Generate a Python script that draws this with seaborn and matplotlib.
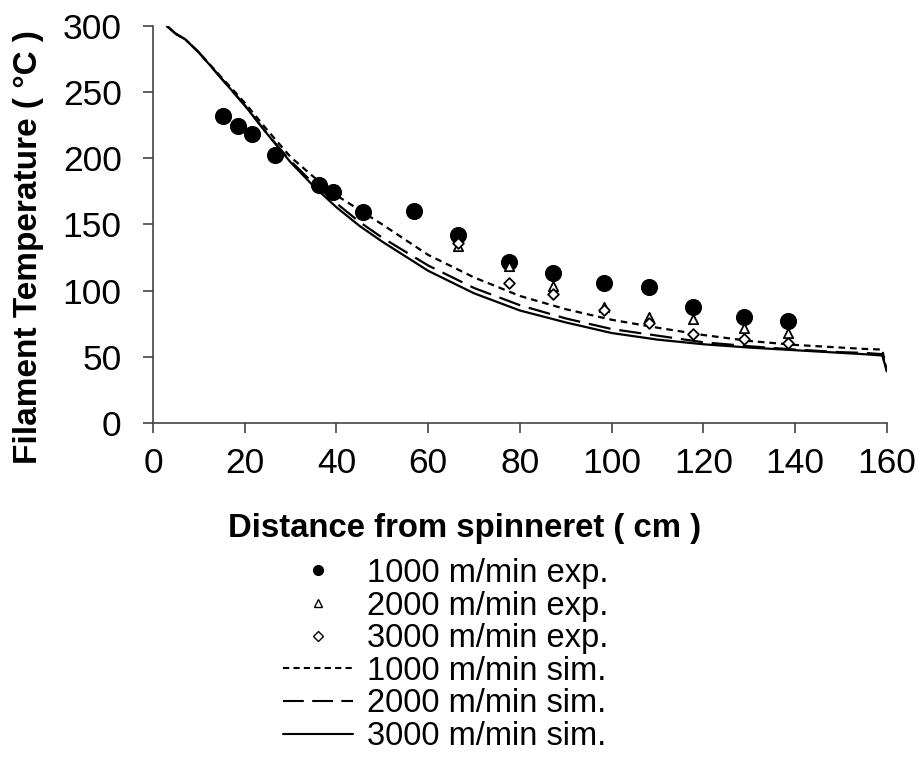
import matplotlib
matplotlib.use("Agg")
import matplotlib.pyplot as plt
import seaborn as sns
from matplotlib.lines import Line2D

# ---- data ----
exp_x = [15.3, 18.5, 21.6, 26.5, 36.2, 39.2, 45.7, 56.9, 66.6, 77.7, 87.3, 98.4, 108.1, 117.8, 128.8, 138.5]
exp1000_y = [232, 224.5, 218.4, 202.6, 179.7, 174.8, 159.5, 160.5, 142, 122, 113, 106, 102.6, 87.4, 80.1, 77.3]

exp2_x = [66.6, 77.7, 87.3, 98.4, 108.1, 117.8, 128.8, 138.5]
exp2000_y = [134, 118.5, 103.8, 87.4, 80.3, 78.4, 71.6, 68.3]
exp3_x = [66.6, 77.7, 87.3, 98.4, 108.1, 117.8, 128.8, 138.5]
exp3000_y = [136, 105.6, 97.5, 85.4, 75.4, 67, 63.5, 60.7]

sim_x = [3, 5, 7, 10, 15, 20, 25, 30, 35, 40, 45, 50, 60, 70, 80, 90, 100, 110, 120, 130, 140, 150, 155, 159, 159.5, 160]
sim1000_y = [300, 294, 290, 280, 261, 242, 221, 201, 186, 172, 161, 150, 127, 110, 96, 86, 78, 72, 66.5, 62, 59, 57, 56, 55.5, 47, 39]
sim2000_y = [300, 294, 290, 280, 260, 240, 218, 198, 181, 166, 152, 140, 119, 102, 89, 79, 71, 66, 61, 58, 55.5, 53.5, 53, 52, 46, 39]
sim3000_y = [300, 294, 290, 280, 260, 240, 218, 197, 179, 163, 149, 137, 115, 98, 85, 76, 68, 63, 59.5, 57, 55, 53, 52, 51, 45, 39]

labels = ["1000 m/min exp.", "2000 m/min exp.", "3000 m/min exp.",
          "1000 m/min sim.", "2000 m/min sim.", "3000 m/min sim."]
x_ticks = [0, 20, 40, 60, 80, 100, 120, 140, 160]
y_ticks = [0, 50, 100, 150, 200, 250, 300]

sns.set_style("ticks")
plt.rcParams['font.family'] = ['Liberation Sans', 'DejaVu Sans']
plt.rcParams['text.color'] = 'black'
plt.rcParams['axes.labelcolor'] = 'black'

fig = plt.figure(figsize=(9.2, 7.57), dpi=100)
ax = fig.add_axes([0.1663, 0.4412, 0.7977, 0.5245])

lw = 1.6
sns.lineplot(x=sim_x, y=sim1000_y, ax=ax, color="black", lw=lw, linestyle=(0, (3, 2.2)), sort=False)
sns.lineplot(x=sim_x, y=sim2000_y, ax=ax, color="black", lw=lw, linestyle=(0, (10, 4)), sort=False)
sns.lineplot(x=sim_x, y=sim3000_y, ax=ax, color="black", lw=lw, linestyle="-", sort=False)

sns.scatterplot(x=exp_x, y=exp1000_y, ax=ax, marker="o", s=130, color="black", edgecolor="black", zorder=5)
sns.scatterplot(x=exp2_x, y=exp2000_y, ax=ax, marker="^", s=45, facecolor="white", edgecolor="black", linewidth=1.3, zorder=6)
sns.scatterplot(x=exp3_x, y=exp3000_y, ax=ax, marker="D", s=30, facecolor="white", edgecolor="black", linewidth=1.3, zorder=7)

ax.set_xlim(0, 160)
ax.set_ylim(0, 300)
ax.set_xticks(x_ticks)
ax.set_yticks(y_ticks)
for s in ["top", "right"]:
    ax.spines[s].set_visible(False)
for s in ["left", "bottom"]:
    ax.spines[s].set_color("#444444")
    ax.spines[s].set_linewidth(1.2)
ax.tick_params(axis="both", direction="out", length=7.5, width=1.2, color="#444444",
               labelsize=25.5, labelcolor="black")
ax.tick_params(axis="y", pad=15)
ax.tick_params(axis="x", pad=10)
ax.set_xlabel("Distance from spinneret ( cm )", fontsize=23.7, fontweight="bold")
ax.set_ylabel("Filament Temperature ( °C )", fontsize=24, fontweight="bold")
ax.xaxis.set_label_coords(0.424, -0.265)
ax.yaxis.set_label_coords(-0.17, 0.443)
ax.xaxis.label.set_va("center")
ax.yaxis.label.set_va("center")

# legend
handles = [
    Line2D([], [], linestyle="none", marker="o", markersize=7, color="black"),
    Line2D([], [], linestyle="none", marker="^", markersize=6, markerfacecolor="white", markeredgecolor="black"),
    Line2D([], [], linestyle="none", marker="D", markersize=5, markerfacecolor="white", markeredgecolor="black"),
    Line2D([], [], color="black", lw=1.5, linestyle=(0, (3, 2))),
    Line2D([], [], color="black", lw=1.5, linestyle=(0, (10, 4))),
    Line2D([], [], color="black", lw=1.5, linestyle="-"),
]
fig.legend(handles, labels, loc="upper left", bbox_to_anchor=(0.3076, 0.263), frameon=False,
           fontsize=23.5, handlelength=2.15, handletextpad=0.43, labelspacing=0.05,
           borderpad=0, borderaxespad=0)

fig.savefig("out.png", dpi=100)
